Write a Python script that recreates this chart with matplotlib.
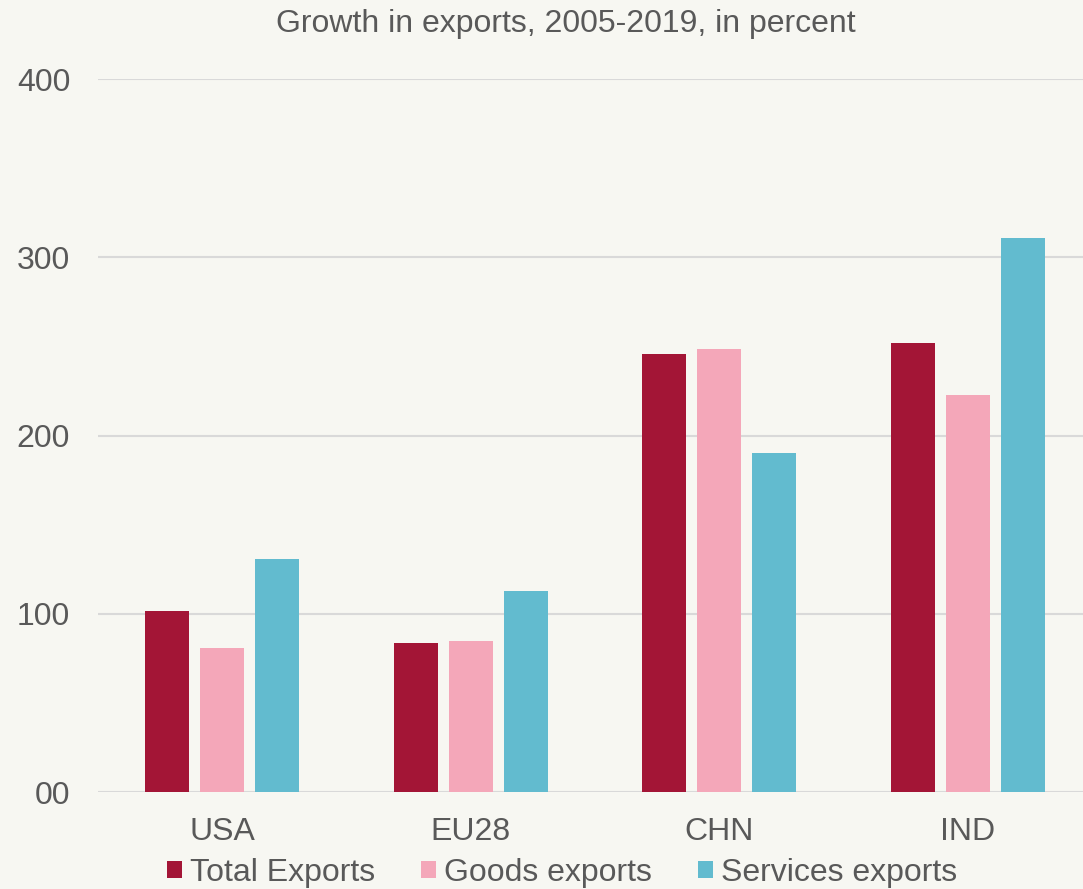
import numpy as np
import matplotlib.pyplot as plt
from matplotlib.ticker import FixedLocator, FixedFormatter

countries = ['USA', 'EU28', 'CHN', 'IND']
total_exports = [101.5, 83.5, 246.0, 252.0]
goods_exports = [81.0, 84.5, 248.5, 223.0]
services_exports = [131.0, 113.0, 190.0, 311.0]
series_names = ['Total Exports', 'Goods exports', 'Services exports']
y_ticks = [0, 100, 200, 300, 400]
y_labels = ['00', '100', '200', '300', '400']

bg = '#f7f7f2'
txt = '#595959'
colors = ['#a31536', '#f4a7b9', '#62bbcf']

plt.rcParams['font.family'] = ['Liberation Sans', 'DejaVu Sans']

fig = plt.figure(figsize=(10.83, 8.89), dpi=100, facecolor=bg)
# plot area runs a little past the right edge of the canvas
ax = fig.add_axes([0.0905, 0.109, 0.918, 0.802], facecolor=bg)

x = np.arange(len(countries))
w = 0.177
step = 0.221
for i, (vals, name) in enumerate(zip([total_exports, goods_exports, services_exports], series_names)):
    ax.bar(x + (i - 1) * step, vals, width=w, color=colors[i], label=name, zorder=3)

ax.set_xlim(-0.5, 3.5)
ax.set_ylim(0, 400)
ax.yaxis.set_major_locator(FixedLocator(y_ticks))
ax.yaxis.set_major_formatter(FixedFormatter(y_labels))
ax.set_xticks(x)
ax.set_xticklabels(countries)
ax.tick_params(axis='y', length=0, pad=20, labelsize=23, labelcolor=txt)
ax.tick_params(axis='x', length=0, pad=18, labelsize=23, labelcolor=txt)
ax.grid(axis='y', color='#d9d9d9', linewidth=1.5, zorder=0)
for s in ax.spines.values():
    s.set_visible(False)

fig.text(566 / 1083, 0.973, 'Growth in exports, 2005-2019, in percent', ha='center', va='center',
         fontsize=23, color=txt)

handles, labels = ax.get_legend_handles_labels()
fig.legend(handles, labels, loc='center', bbox_to_anchor=(562 / 1083, 0.018), ncol=3, frameon=False,
           fontsize=23, handlelength=0.47, handleheight=0.47, handletextpad=0.25,
           columnspacing=1.44, labelcolor=txt, borderpad=0, borderaxespad=0)

fig.savefig('out.png', dpi=100, facecolor=bg)
